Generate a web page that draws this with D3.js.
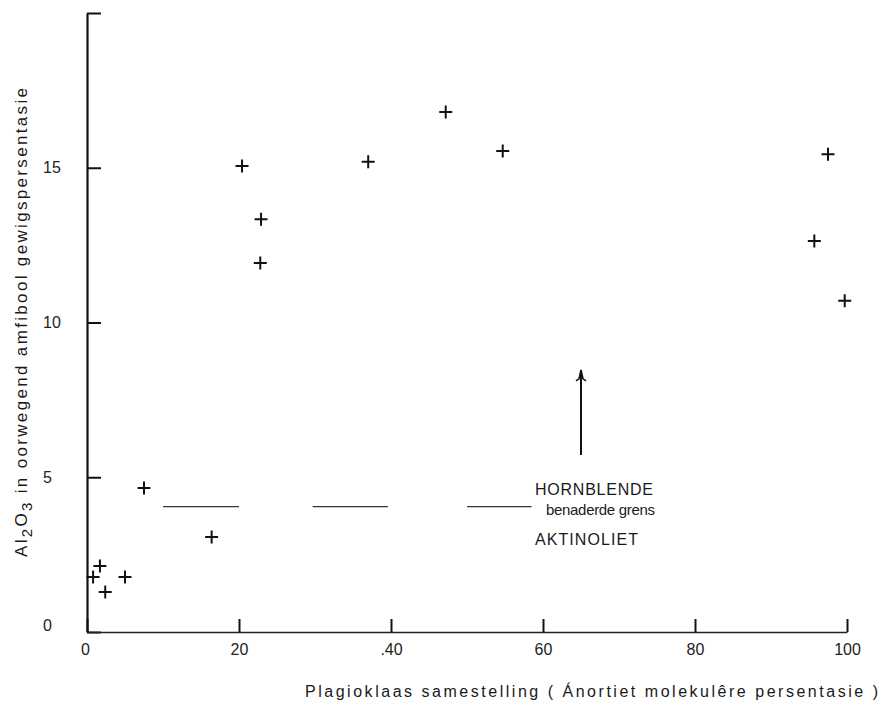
<!DOCTYPE html>
<html>
<head>
<meta charset="utf-8">
<script src="https://cdn.jsdelivr.net/npm/d3@7"></script>
<style>
  html, body { margin: 0; padding: 0; background: #fff; }
  svg { display: block; }
  text { font-family: "Liberation Sans", Arial, Helvetica, sans-serif; fill: #1a1a1a; }
</style>
</head>
<body>
<script>
// ---- data ----
const anorthite = [0.8, 1.7, 2.4, 5.0, 7.5, 16.4, 20.4, 22.9, 22.8, 37.0, 47.2, 54.7, 95.7, 97.5, 99.7];
const al2o3     = [1.78, 2.13, 1.29, 1.78, 4.65, 3.07, 15.06, 13.34, 11.92, 15.19, 16.8, 15.54, 12.63, 15.44, 10.7];
const xTickValues = [0, 20, 40, 60, 80, 100];
const xTickLabels = ["0", "20", ".40", "60", "80", "100"];
const yTickValues = [0, 5, 10, 15, 20];
const yTickLabels = ["0", "5", "10", "15", ""];
const boundaryLevel = 4.05;
const boundarySegments = [[10, 20], [29.7, 39.6], [50, 58.5]];
const arrowX = 65, arrowFrom = 5.72, arrowTo = 8.47;
const labelHornblende = "HORNBLENDE";
const labelBoundary = "benaderde grens";
const labelActinolite = "AKTINOLIET";
const xTitle = "Plagioklaas samestelling  ( Ánortiet molekulêre persentasie )";

const W = 882, H = 715;
const svg = d3.select("body").append("svg").attr("width", W).attr("height", H);

const x = d3.scaleLinear().domain([0, 100]).range([87, 847]);
const y = d3.scaleLinear().domain([0, 20]).range([632, 13]);

// y axis
const yAxis = svg.append("g").attr("transform", `translate(${x(0)},0)`)
  .call(d3.axisLeft(y).tickValues(yTickValues).tickSize(-14).tickSizeOuter(0)
        .tickFormat((d, i) => yTickLabels[i]));
yAxis.select(".domain").attr("stroke", "#111").attr("stroke-width", 2.2);
yAxis.selectAll(".tick line").attr("stroke", "#111").attr("stroke-width", 2);
yAxis.selectAll(".tick text").attr("text-anchor", "start").attr("x", 43 - 87)
  .attr("dy", "0.3em").style("font-size", "16px").style("fill", "#222");
yAxis.selectAll(".tick text").filter(d => d === 0).attr("dy", "-0.1em");

// x axis
const xAxis = svg.append("g").attr("transform", `translate(0,${y(0)})`)
  .call(d3.axisBottom(x).tickValues(xTickValues).tickSize(-13).tickSizeOuter(0).tickPadding(12)
        .tickFormat((d, i) => xTickLabels[i]));
xAxis.select(".domain").attr("stroke", "#222").attr("stroke-width", 1.6);
xAxis.selectAll(".tick line").attr("stroke", "#111").attr("stroke-width", 2);
xAxis.selectAll(".tick text").style("font-size", "16px").style("fill", "#222");
xAxis.selectAll(".tick text").filter((d) => d === 0).attr("dx", "-2");

// boundary dashes
svg.append("g").selectAll("line").data(boundarySegments).join("line")
  .attr("x1", d => x(d[0])).attr("x2", d => x(d[1]))
  .attr("y1", y(boundaryLevel)).attr("y2", y(boundaryLevel))
  .attr("stroke", "#333").attr("stroke-width", 1.4);

// points (+ markers)
const pts = anorthite.map((v, i) => [v, al2o3[i]]);
const h = 6.5;
svg.append("g").selectAll("path").data(pts).join("path")
  .attr("d", d => {
    const cx = x(d[0]), cy = y(d[1]);
    return `M${cx - h},${cy}H${cx + h}M${cx},${cy - h}V${cy + h}`;
  })
  .attr("stroke", "#111").attr("stroke-width", 2).attr("fill", "none");

// arrow
const ax = x(arrowX), ay0 = y(arrowFrom), ay1 = y(arrowTo);
svg.append("line").attr("x1", ax).attr("x2", ax).attr("y1", ay0).attr("y2", ay1 + 3)
  .attr("stroke", "#111").attr("stroke-width", 2);
svg.append("path")
  .attr("d", `M${ax - 5},${ay1 + 11}L${ax - 2},${ay1 + 9}L${ax},${ay1}L${ax + 2},${ay1 + 9}L${ax + 5},${ay1 + 11}`)
  .attr("stroke", "#111").attr("stroke-width", 1.6).attr("fill", "none");

// annotations
svg.append("text").attr("x", 535).attr("y", 495).attr("textLength", 118).attr("lengthAdjust", "spacing")
  .style("font-size", "16px").text(labelHornblende);
svg.append("text").attr("x", 546).attr("y", 515).attr("textLength", 109).attr("lengthAdjust", "spacing")
  .style("font-size", "15px").text(labelBoundary);
svg.append("text").attr("x", 535).attr("y", 545).attr("textLength", 103).attr("lengthAdjust", "spacing")
  .style("font-size", "16px").text(labelActinolite);

// x title
svg.append("text").attr("x", 305).attr("y", 697).attr("textLength", 573).attr("lengthAdjust", "spacing")
  .style("font-size", "16px").text(xTitle);

// y title (rotated) with subscripts
const yt = svg.append("text")
  .attr("transform", "translate(27,557) rotate(-90)")
  .attr("textLength", 469).attr("lengthAdjust", "spacing")
  .style("font-size", "17px");
yt.append("tspan").text("Al");
yt.append("tspan").attr("dy", 5).style("font-size", "15px").text("2");
yt.append("tspan").attr("dy", -5).text("O");
yt.append("tspan").attr("dy", 5).style("font-size", "15px").text("3");
yt.append("tspan").attr("dy", -5).text("  in oorwegend amfibool gewigspersentasie");
</script>
</body>
</html>
